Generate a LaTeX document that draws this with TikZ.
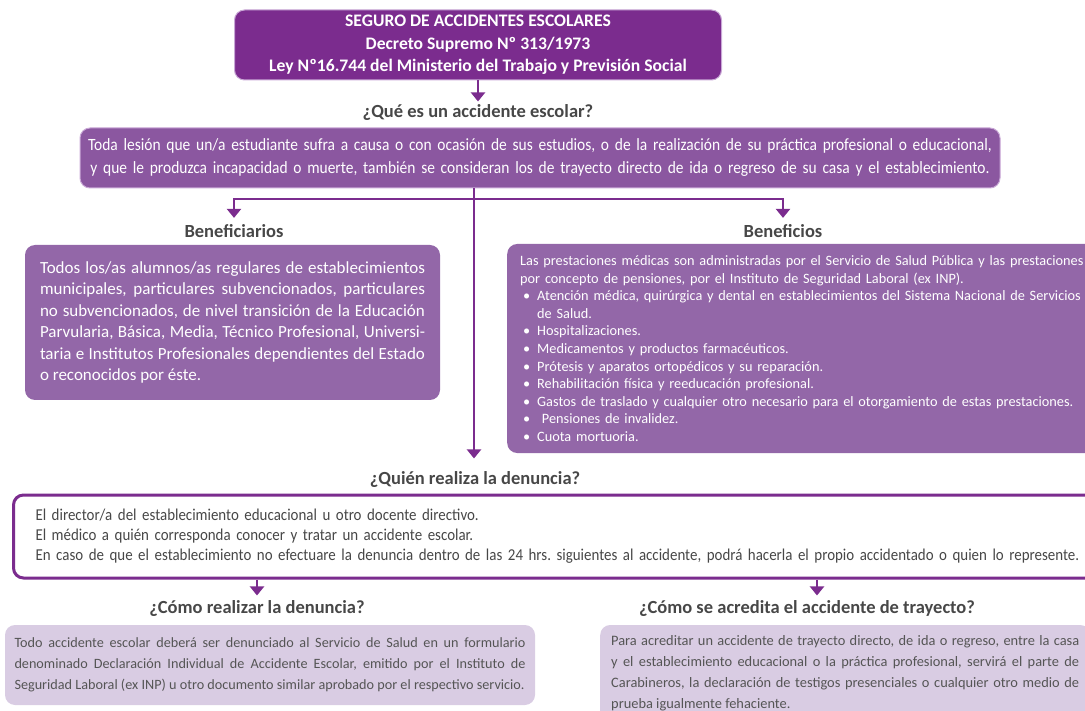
\documentclass[tikz,border=0pt]{standalone}
\usepackage{fontspec}
\setmainfont{Carlito}
\newfontfamily\narrowfont[FakeStretch=0.9]{Carlito}
\usetikzlibrary{arrows.meta}
\frenchspacing

\definecolor{darkpurple}{HTML}{7B2C8E}
\definecolor{midpurple}{HTML}{8B57A0}
\definecolor{softpurple}{HTML}{9367A8}
\definecolor{palepurple}{HTML}{D9CCE3}
\definecolor{edgepurple}{HTML}{C9A8D6}
\definecolor{titlegray}{HTML}{474747}
\definecolor{bodygray}{HTML}{555555}

\newcommand{\benefitem}{\hspace*{3pt}\makebox[14pt][l]{\textbullet}}

\begin{document}
\begin{tikzpicture}[x=1pt, y=-1pt,
    box/.style={rounded corners=10pt, inner ysep=0pt},
    heading/.style={font=\bfseries\fontsize{18.5}{20}\selectfont, text=titlegray},
    plain/.style={darkpurple, line width=2.8pt},
    link/.style={plain, -{Triangle[width=14pt,length=9pt]}}]
    \useasboundingbox (0,0) rectangle (1085,711);

    % Title box
    \node[box, fill=darkpurple, draw=edgepurple, line width=1pt, text=white,
        minimum width=487pt, minimum height=70pt, align=center,
        font=\bfseries\fontsize{17.6}{22.5}\selectfont] (seguro) at (478,45)
        {SEGURO DE ACCIDENTES ESCOLARES\\ Decreto Supremo Nº 313/1973\\
         Ley Nº16.744 del Ministerio del Trabajo y Previsión Social};

    \node[heading] (qtitle) at (478,113) {¿Qué es un accidente escolar?};

    % Definition
    \node[box, fill=midpurple, draw=edgepurple, line width=1pt, text=white,
        minimum width=920pt, minimum height=60pt, text width=910pt, align=center,
        font=\narrowfont\fontsize{17.2}{23}\selectfont] (qdef) at (540,158)
        {Toda lesión que un/a estudiante sufra a causa o con ocasión de sus estudios, o de la realización de su práctica profesional o educacional,\\
         y que le produzca incapacidad o muerte, también se consideran los de trayecto directo de ida o regreso de su casa y el establecimiento.};

    \node[heading] (tbenef1) at (234,231) {Beneficiarios};
    \node[heading] (tbenef2) at (783,231) {Beneficios};

    % Beneficiarios
    \node[box, fill=softpurple, text=white, minimum width=415pt, minimum height=155pt,
        text width=385pt, align=justify,
        font=\fontsize{17}{21.5}\selectfont] (benef1) at (232.5,322.5)
        {Todos los/as alumnos/as regulares de establecimientos\linebreak
         municipales, particulares subvencionados, particulares\linebreak
         no subvencionados, de nivel transición de la Educación\linebreak
         Parvularia, Básica, Media, Técnico Profesional, Universi-\linebreak
         taria e Institutos Profesionales dependientes del Estado\linebreak
         o reconocidos por éste.};

    % Beneficios
    \node[box, fill=softpurple, text=white, anchor=west, minimum width=590pt,
        minimum height=209pt, inner xsep=13pt, text width=570pt, align=left,
        font=\fontsize{14.3}{17.6}\selectfont] (benef2) at (507,348.5)
        {Las prestaciones médicas son administradas por el Servicio de Salud Pública y las prestaciones\\
         por concepto de pensiones, por el Instituto de Seguridad Laboral (ex INP).\\
         \benefitem Atención médica, quirúrgica y dental en establecimientos del Sistema Nacional de Servicios\\
         \hspace*{17pt}de Salud.\\
         \benefitem Hospitalizaciones.\\
         \benefitem Medicamentos y productos farmacéuticos.\\
         \benefitem Prótesis y aparatos ortopédicos y su reparación.\\
         \benefitem Rehabilitación física y reeducación profesional.\\
         \benefitem Gastos de traslado y cualquier otro necesario para el otorgamiento de estas prestaciones.\\
         \benefitem\ Pensiones de invalidez.\\
         \benefitem Cuota mortuoria.};

    \node[heading] (quien) at (475,480) {¿Quién realiza la denuncia?};

    % Denuncia
    \node[box, fill=white, draw=darkpurple, line width=3pt, text=titlegray, anchor=west,
        minimum width=1090pt, minimum height=83pt, inner xsep=22pt, text width=1060pt,
        align=left, font=\narrowfont\fontsize{16.6}{20}\selectfont] (quienbox) at (12,536.5)
        {El director/a del establecimiento educacional u otro docente directivo.\\
         El médico a quién corresponda conocer y tratar un accidente escolar.\\
         En caso de que el establecimiento no efectuare la denuncia dentro de las 24 hrs. siguientes al accidente, podrá hacerla el propio accidentado o quien lo represente.};

    \node[heading] (como1) at (257,609) {¿Cómo realizar la denuncia?};
    \node[heading] (como2) at (807,609) {¿Cómo se acredita el accidente de trayecto?};

    % Bottom boxes
    \node[box, fill=palepurple, text=bodygray, minimum width=530pt, minimum height=80pt,
        text width=511pt, align=justify,
        font=\fontsize{14.2}{21}\selectfont] (formulario) at (270,665)
        {Todo accidente escolar deberá ser denunciado al Servicio de Salud en un formulario\linebreak
         denominado Declaración Individual de Accidente Escolar, emitido por el Instituto de\linebreak
         Seguridad Laboral (ex INP) u otro documento similar aprobado por el respectivo servicio.};

    \node[box, fill=palepurple, text=bodygray, anchor=west, minimum width=490pt,
        minimum height=96pt, inner xsep=10pt, text width=468pt, align=justify,
        font=\fontsize{14.4}{21}\selectfont] (trayecto) at (600,673)
        {Para acreditar un accidente de trayecto directo, de ida o regreso, entre la casa\linebreak
         y el establecimiento educacional o la práctica profesional, servirá el parte de\linebreak
         Carabineros, la declaración de testigos presenciales o cualquier otro medio de\linebreak
         prueba igualmente fehaciente.};

    % Connectors
    \coordinate (split) at (474,199);
    \draw[link] (seguro) -- (qtitle);
    \draw[link, shorten >=10pt] (qdef.south -| split) -- (quien.north -| split);
    \draw[link, shorten >=3pt] (split) -| (tbenef1.north);
    \draw[link, shorten >=3pt] (split) -| (tbenef2.north);
    \draw[link, shorten >=2pt] (quienbox.south -| como1) -- (como1.north);
    \draw[link, shorten >=2pt] ([xshift=10pt]como2.north |- quienbox.south) -- ([xshift=10pt]como2.north);
\end{tikzpicture}
\end{document}
